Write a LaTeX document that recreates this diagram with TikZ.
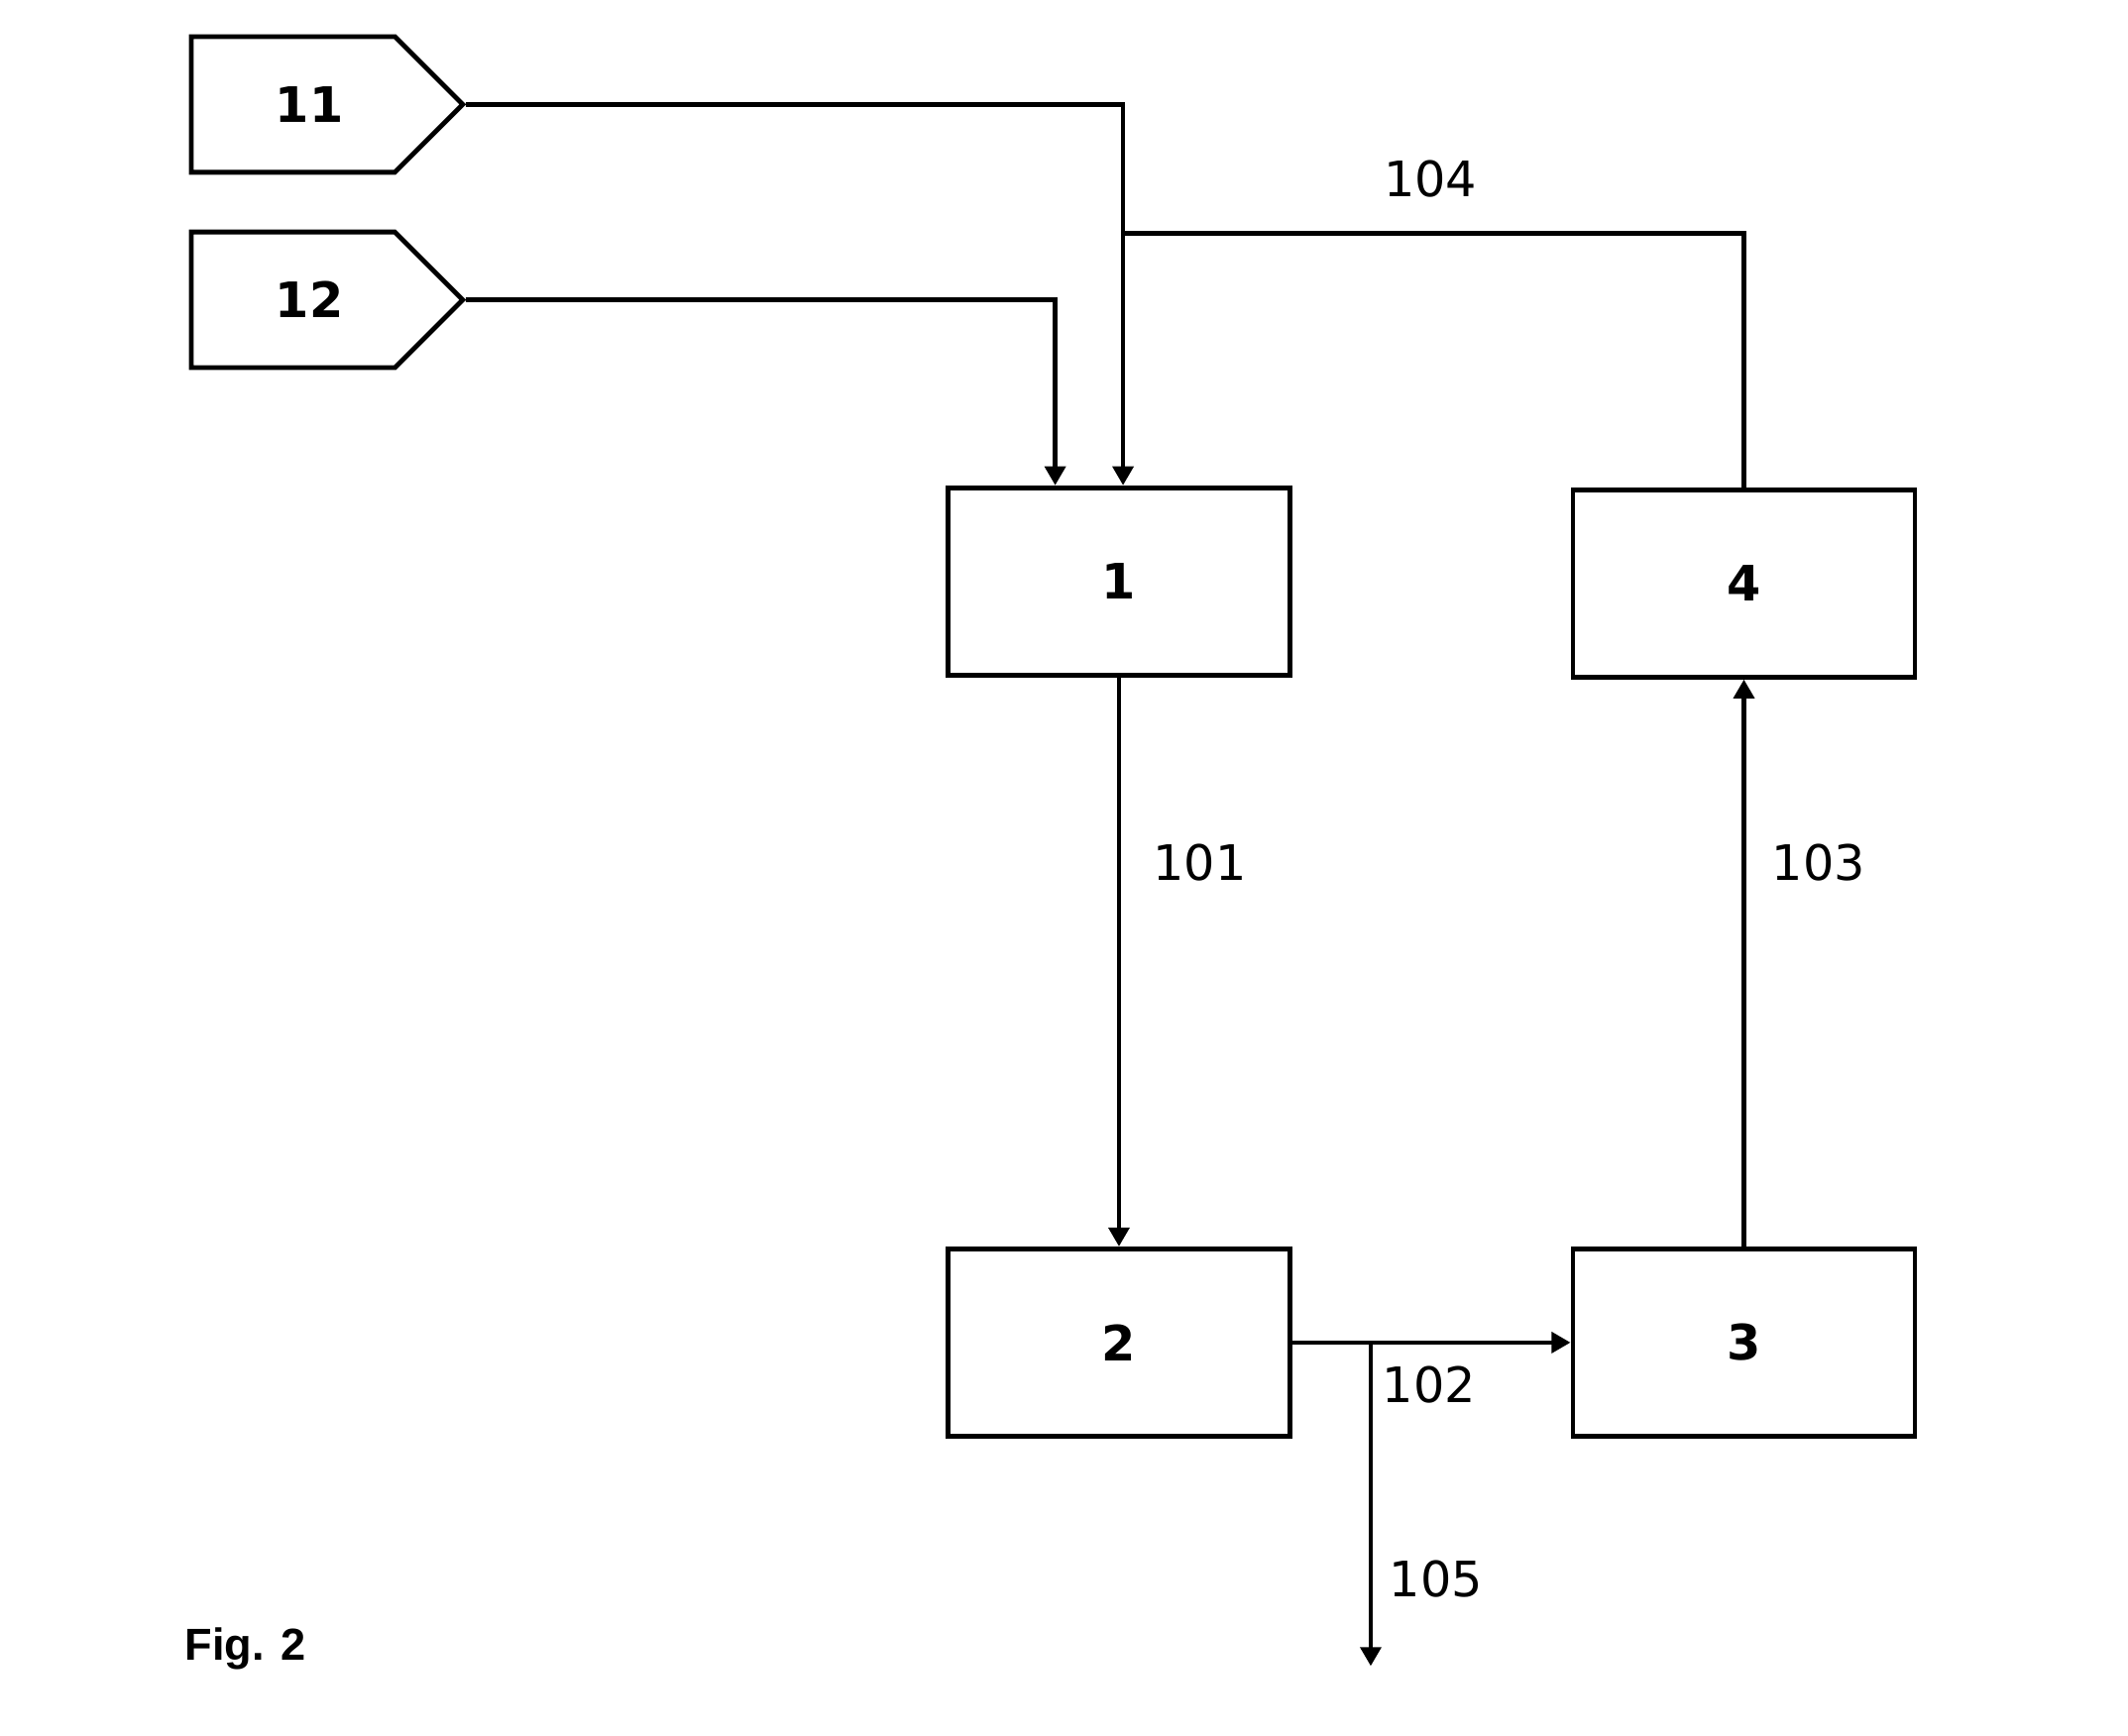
\documentclass[tikz,border=0pt]{standalone}
\usepackage{fontspec}
\setmainfont{DejaVu Sans}
\newfontfamily\figfont{Liberation Sans}
\usetikzlibrary{arrows.meta,shapes.symbols}

\begin{document}
\begin{tikzpicture}[x=1pt, y=-1pt,
    line width=3.5pt,
    unit/.style={draw, rectangle, minimum width=252pt, minimum height=138pt,
        inner sep=0pt, font=\fontsize{36}{40}\selectfont\bfseries},
    feed/.style={draw, signal, signal to=east, signal from=nowhere,
        signal pointer angle=90, minimum width=200pt, minimum height=100pt,
        inner sep=0pt, font=\fontsize{36}{40}\selectfont\bfseries},
    stream/.style={-{Triangle[length=14pt, width=15pt]}},
    tag/.style={font=\fontsize{36}{40}\selectfont}]
    \useasboundingbox (0,0) rectangle (1568,1279);

    % Feeds
    \node[feed] (f11) at (216,77) {\hspace*{24pt}11};
    \node[feed] (f12) at (216,221) {\hspace*{24pt}12};

    % Units
    \node[unit] (u1) at (824.5,428.5) {1};
    \node[unit] (u2) at (824.5,989.5) {2};
    \node[unit] (u3) at (1285,989.5) {3};
    \node[unit] (u4) at (1285,430) {4};

    % Junctions
    \coordinate (j104) at (827,172);
    \coordinate (j105) at (1010,990);
    \coordinate (out105) at (1010,1228);

    % Streams
    \draw[stream] (f11.east) -| ([xshift=3pt]u1.north);
    \draw[stream] (f12.east) -| ([xshift=-47pt]u1.north);
    \draw (u4.north) |- (j104);
    \draw[stream] (u1.south) -- (u2.north);
    \draw[stream] (u2.east) -- (u3.west);
    \draw[stream] (u3.north) -- (u4.south);
    \draw[stream] (j105) -- (out105);

    % Stream numbers
    \node[tag] (t104) at (1054,132) {104};
    \node[tag] (t101) at (884,636) {101};
    \node[tag] (t103) at (1340,636) {103};
    \node[tag] (t102) at (1053,1021) {102};
    \node[tag] (t105) at (1058,1164) {105};

    \node[font=\figfont\fontsize{33}{36}\selectfont\bfseries] (fig) at (181,1215) {Fig. 2};
\end{tikzpicture}
\end{document}
